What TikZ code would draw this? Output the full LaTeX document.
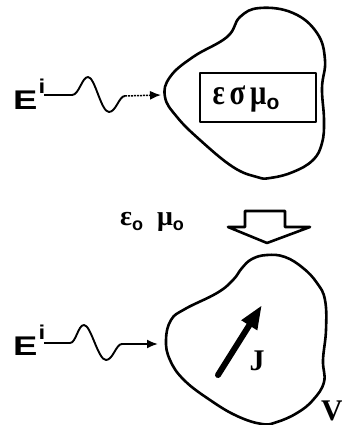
\documentclass[tikz,border=0pt]{standalone}
\usepackage{fontspec}
\setmainfont{Liberation Serif}
\newfontfamily\sfb{Liberation Sans}
\usetikzlibrary{arrows.meta}
\begin{document}
\begin{tikzpicture}[x=1pt,y=-1pt,line join=round]
\useasboundingbox (0,0) rectangle (342,425);
\tikzset{
  outline/.style={line width=2.6pt},
  wavy/.style={line width=1.9pt},
  headtip/.style={-{Latex[length=11pt,width=9pt]}},
  einc/.style={inner sep=0pt, anchor=base west, font=\sfb\bfseries\fontsize{27}{27}\selectfont},
  sym/.style={inner sep=0pt, anchor=base, font=\bfseries\fontsize{30}{30}\selectfont},
  blockarrow/.style={line width=2.6pt, fill=white},
}
% ---------- top ----------
\node[einc] (e1) at (13,110) {\scalebox{1.35}[1]{E}\hspace{1pt}\raisebox{16pt}{\fontsize{20}{20}\selectfont\scalebox{1.2}[1]{i}}};
\coordinate (w1) at (44,95);
\coordinate (t1) at (161,95);
\draw[wavy] (w1) -- ++(28,0) .. controls +(7,0) and +(-6,0) .. ++(16,-18)
  .. controls +(7,0) and +(-8,0) .. ++(21,35)
  .. controls +(7,0) and +(-6,0) .. ++(16,-16) coordinate (w1e);
\draw[line width=1.5pt, dash pattern=on 2pt off 1pt, headtip] (w1e) -- (t1);
\draw[outline] plot[smooth cycle, tension=0.7] coordinates {
  (165,97) (170,77) (193,57) (227,37) (240,17) (260,8) (293,13) (317,33)
  (325,60) (322,88) (324,120) (322,143) (313,160) (293,172) (270,178)
  (257,177) (233,167) (200,140) (177,117)};
\node[draw, line width=2.4pt, minimum width=116pt, minimum height=49pt, inner sep=0pt] (box) at (258,97.5) {};
\node[inner sep=0pt, anchor=base] (mat) at (246,105)
  {\bfseries\fontsize{36}{36}\selectfont\scalebox{0.8}[1]{ε\hspace{6pt}σ\hspace{6pt}μ}\raisebox{-5pt}{\sfb\bfseries\fontsize{21}{21}\selectfont o}};
% ---------- middle ----------
\node[inner sep=0pt, anchor=base] (free) at (152,225)
  {\bfseries\fontsize{28}{28}\selectfont ε\raisebox{-5pt}{\sfb\bfseries\fontsize{18}{18}\selectfont o}\hspace{14pt}μ\raisebox{-5pt}{\sfb\bfseries\fontsize{18}{18}\selectfont o}};
\draw[blockarrow] (245,211) -- (285,211) -- (285,227) -- (310,227) -- (267,243)
  -- (228,227) -- (245,227) -- cycle;
% ---------- bottom ----------
\node[einc] (e2) at (13,355) {\scalebox{1.35}[1]{E}\hspace{1pt}\raisebox{16pt}{\fontsize{20}{20}\selectfont\scalebox{1.2}[1]{i}}};
\coordinate (w2) at (44,343);
\coordinate (t2) at (158,344);
\draw[wavy] (w2) -- ++(26,0) .. controls +(6,0) and +(-6,0) .. ++(14,-18)
  .. controls +(7,0) and +(-8,0) .. ++(22,35)
  .. controls +(7,0) and +(-6,0) .. ++(16,-16) coordinate (w2e);
\draw[line width=1.9pt, headtip] (w2e) -- (t2);
\draw[outline] plot[smooth cycle, tension=0.7] coordinates {
  (166,340) (171,320) (185,309) (217,293) (233,280) (242,268) (252,259)
  (267,255) (285,257) (303,268) (317,283) (325,300) (326,330) (323,360)
  (324,382) (313,400) (297,413) (277,422) (262,424) (237,416) (210,400)
  (184,380) (170,360)};
\coordinate (jt) at (218,375);
\coordinate (jh) at (262,305);
\draw[line width=6pt, line cap=round, -{Triangle[length=24pt,width=17pt]}] (jt) -- (jh);
\node[sym] (J) at (257,370) {J};
\node[sym, anchor=base west] (V) at (321,420) {V};
\end{tikzpicture}
\end{document}
